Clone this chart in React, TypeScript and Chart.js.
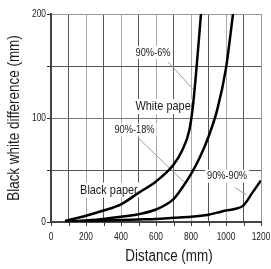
import React, { useEffect, useRef } from "react";
import { Chart, registerables } from "chart.js";

Chart.register(...registerables);

// ---- data ----
const blackPaperX = [80, 200, 300, 400, 500, 600, 700, 750, 790, 810, 830, 857];
const blackPaperY = [1, 6, 11, 17, 28, 39, 55, 69, 88, 110, 145, 200];

const whitePaperX = [80, 200, 300, 400, 500, 600, 700, 750, 800, 850, 900, 950, 1000, 1040];
const whitePaperY = [0, 1.5, 3, 5, 7.5, 12, 22, 33, 46, 62, 82, 108, 148, 200];

const ninetyX = [80, 200, 300, 400, 500, 600, 700, 800, 900, 950, 1000, 1050, 1100, 1150, 1200];
const ninetyY = [0.5, 1, 1.5, 2, 2.5, 3, 4, 5, 7, 9, 11, 12.5, 16, 28, 40];

const xTickLabels = ["0", "200", "400", "600", "800", "1000", "1200"];
const yTickLabels = ["0", "100", "200"];
const xTickMarks = [0, 100, 200, 300, 400, 500, 600, 700, 800, 900, 1000, 1100, 1200];
const yTickMarks = [0, 50, 100, 150, 200];

const xTitle = "Distance (mm)";
const yTitle = "Black white difference (mm)";

// annotation texts (data coordinates)
const annTexts = ["90%-6%", "White paper", "90%-18%", "Black paper", "90%-90%"];
const annX = [583, 651, 477, 331, 1006];
const annY = [163, 111, 88.5, 30.8, 44];
const annSizes = [11, 13, 11, 13, 11];

// leader lines (data coordinates)
const leaderFromX = [669, 497, 1051];
const leaderFromY = [154, 81, 33];
const leaderToX = [810, 766, 1118];
const leaderToY = [128, 37.5, 26];

const FONT = "'Liberation Sans', Arial, Helvetica, sans-serif";
const SQ = 0.84; // horizontal compression to mimic a narrow face
const TEXT = "#1a1a1a";

const zip = (xs: number[], ys: number[]) => xs.map((x, i) => ({ x, y: ys[i] }));

function narrow(ctx: any, text: string, x: number, y: number, size: number, align: string, rotate = false) {
  ctx.save();
  ctx.translate(x, y);
  if (rotate) ctx.rotate(-Math.PI / 2);
  ctx.scale(SQ, 1);
  ctx.font = `${size}px ${FONT}`;
  ctx.textAlign = align;
  ctx.textBaseline = "middle";
  ctx.fillStyle = TEXT;
  ctx.fillText(text, 0, 0);
  ctx.restore();
}

const annotationPlugin = {
  id: "annotations",
  beforeDatasetsDraw(chart: any) {
    const { ctx, scales } = chart;
    const xs = scales.x;
    const ys = scales.y;
    ctx.save();
    ctx.strokeStyle = "#a0a0a0";
    ctx.lineWidth = 1;
    for (let i = 0; i < leaderFromX.length; i++) {
      ctx.beginPath();
      ctx.moveTo(xs.getPixelForValue(leaderFromX[i]), ys.getPixelForValue(leaderFromY[i]));
      ctx.lineTo(xs.getPixelForValue(leaderToX[i]), ys.getPixelForValue(leaderToY[i]));
      ctx.stroke();
    }
    for (let i = 0; i < annTexts.length; i++) {
      ctx.font = `${annSizes[i]}px ${FONT}`;
      const px = xs.getPixelForValue(annX[i]);
      const py = ys.getPixelForValue(annY[i]);
      const w = ctx.measureText(annTexts[i]).width * SQ;
      const h = annSizes[i] + 2;
      ctx.fillStyle = "#ffffff";
      ctx.fillRect(px - w / 2 - 2, py - h / 2, w + 4, h);
      narrow(ctx, annTexts[i], px, py, annSizes[i], "center");
    }
    ctx.restore();
  },
  afterDraw(chart: any) {
    const { ctx, chartArea, scales } = chart;
    const xs = scales.x;
    const ys = scales.y;
    // tick marks
    ctx.save();
    ctx.strokeStyle = "#333333";
    ctx.lineWidth = 1;
    for (const v of xTickMarks) {
      const px = Math.round(xs.getPixelForValue(v)) + 0.5;
      ctx.beginPath();
      ctx.moveTo(px, chartArea.bottom);
      ctx.lineTo(px, chartArea.bottom + 4);
      ctx.stroke();
    }
    for (const v of yTickMarks) {
      const py = Math.round(ys.getPixelForValue(v)) + 0.5;
      ctx.beginPath();
      ctx.moveTo(chartArea.left - 4, py);
      ctx.lineTo(chartArea.left, py);
      ctx.stroke();
    }
    ctx.restore();
    for (const t of xTickLabels) {
      narrow(ctx, t, xs.getPixelForValue(Number(t)), chartArea.bottom + 15, 10, "center");
    }
    for (const t of yTickLabels) {
      narrow(ctx, t, chartArea.left - 5, ys.getPixelForValue(Number(t)), 10, "right");
    }
    narrow(ctx, xTitle, (chartArea.left + chartArea.right) / 2 + 13, chartArea.bottom + 35, 16, "center");
    narrow(ctx, yTitle, 15, (chartArea.top + chartArea.bottom) / 2, 16, "center", true);
  },
};

export default function App() {
  const ref = useRef<HTMLCanvasElement | null>(null);
  useEffect(() => {
    if (!ref.current) return;
    const lineStyle = {
      borderColor: "#000000",
      borderWidth: 2.5,
      pointRadius: 0,
      fill: false,
      cubicInterpolationMode: "monotone" as const,
    };
    const chart = new Chart(ref.current, {
      type: "line",
      data: {
        datasets: [
          { label: "90%-6%", data: zip(blackPaperX, blackPaperY), ...lineStyle },
          { label: "90%-18%", data: zip(whitePaperX, whitePaperY), ...lineStyle },
          { label: "90%-90%", data: zip(ninetyX, ninetyY), ...lineStyle },
        ],
      },
      options: {
        animation: false,
        responsive: true,
        maintainAspectRatio: false,
        layout: { padding: { left: 0, right: 10, top: 14, bottom: 0 } },
        plugins: { legend: { display: false }, tooltip: { enabled: false } },
        scales: {
          x: {
            type: "linear",
            min: 0,
            max: 1200,
            afterFit: (s: any) => {
              s.height = 47;
            },
            ticks: {
              stepSize: 100,
              autoSkip: false,
              maxRotation: 0,
              display: false,
            },
            grid: {
              color: (c: any) => {
                const v = c.tick ? c.tick.value : 0;
                if (v === 1200) return "#999999";
                return v % 200 === 100 ? "#555555" : "#aaaaaa";
              },
              drawTicks: false,
              lineWidth: 1,
            },
            border: { color: "#444444", width: 2 },
          },
          y: {
            type: "linear",
            min: 0,
            max: 200,
            afterFit: (s: any) => {
              s.width = 51;
            },
            ticks: {
              stepSize: 50,
              autoSkip: false,
              display: false,
            },
            grid: {
              color: (c: any) => {
                const v = c.tick ? c.tick.value : 0;
                if (v === 200) return "#999999";
                if (v === 100) return "#777777";
                return "#555555";
              },
              drawTicks: false,
              lineWidth: 1,
            },
            border: { color: "#444444", width: 2 },
          },
        },
      },
      plugins: [annotationPlugin],
    });
    return () => chart.destroy();
  }, []);
  return (
    <div style={{ position: "absolute", left: 0, top: 0, width: 271, height: 269 }}>
      <canvas ref={ref} />
    </div>
  );
}
